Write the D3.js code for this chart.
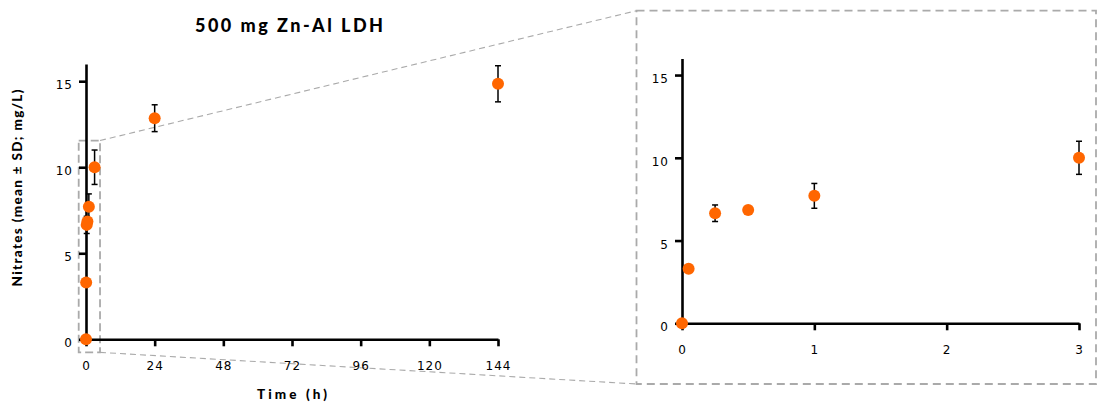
<!DOCTYPE html>
<html>
<head>
<meta charset="utf-8">
<script src="https://cdn.jsdelivr.net/npm/d3@7/dist/d3.min.js"></script>
<style>
  html, body { margin: 0; padding: 0; background: #fff; }
  svg { display: block; }
</style>
</head>
<body>
<svg id="chart" width="1097" height="403"></svg>
<script>
// ---- data ----
const timeHours = [0, 0.05, 0.25, 0.5, 1, 3, 24, 144];
const nitrateMean = [0, 3.3, 6.65, 6.85, 7.7, 10.0, 12.85, 14.85];
const nitrateSD = [0, 0, 0.5, 0, 0.75, 1.0, 0.78, 1.05];
const leftXTicks = [0, 24, 48, 72, 96, 120, 144];
const rightXTicks = [0, 1, 2, 3];
const yTicks = [0, 5, 10, 15];
const chartTitle = "500 mg Zn-Al LDH";
const xTitle = "Time (h)";
const yTitle = "Nitrates (mean ± SD; mg/L)";

const points = timeHours.map((t, i) => ({ t, v: nitrateMean[i], sd: nitrateSD[i] }));

const svg = d3.select("#chart");
const orange = "#ff6600";
const grey = "#aaaaaa";

// ---- scales ----
const xL = d3.scaleLinear().domain([0, 144]).range([86, 498]);
const yL = d3.scaleLinear().domain([0, 16]).range([339.3, 64]);
const xR = d3.scaleLinear().domain([0, 3]).range([682, 1079]);
const yR = d3.scaleLinear().domain([0, 16]).range([323.3, 58.5]);

// ---- zoom indicator (dashed) ----
const boxL = { x0: xL(-2.55), x1: xL(4.9), y0: yL(11.55), y1: yL(-0.76) };
const boxR = { x0: 636.5, x1: 1096, y0: 10.7, y1: 384 };

const g0 = svg.append("g");
g0.append("rect")
  .attr("x", boxL.x0).attr("y", boxL.y0)
  .attr("width", boxL.x1 - boxL.x0).attr("height", boxL.y1 - boxL.y0)
  .attr("fill", "none").attr("stroke", grey).attr("stroke-width", 1.8)
  .attr("stroke-dasharray", "8,4");
g0.append("rect")
  .attr("x", boxR.x0).attr("y", boxR.y0)
  .attr("width", boxR.x1 - boxR.x0).attr("height", boxR.y1 - boxR.y0)
  .attr("fill", "none").attr("stroke", grey).attr("stroke-width", 1.8)
  .attr("stroke-dasharray", "8,5");
g0.append("line")
  .attr("x1", boxL.x1).attr("y1", boxL.y0).attr("x2", boxR.x0).attr("y2", boxR.y0)
  .attr("stroke", grey).attr("stroke-width", 1.1).attr("stroke-dasharray", "6,4");
g0.append("line")
  .attr("x1", boxL.x1).attr("y1", boxL.y1).attr("x2", boxR.x0).attr("y2", boxR.y1)
  .attr("stroke", grey).attr("stroke-width", 1.1).attr("stroke-dasharray", "6,4");

// ---- axes helper ----
function styleAxis(g) {
  g.selectAll("path.domain").attr("stroke", "#000").attr("stroke-width", 2.6);
  g.selectAll(".tick line").attr("stroke", "#000").attr("stroke-width", 2.6);
  g.selectAll(".tick text")
    .attr("fill", "#000")
    .style("font-family", "'DejaVu Sans', Verdana, sans-serif")
    .style("font-size", "12px")
    .style("letter-spacing", "1px");
}

function drawPanel(x, y, xTicks, data) {
  const g = svg.append("g");
  const ax = g.append("g").attr("transform", `translate(0,${y(0)})`)
    .call(d3.axisBottom(x).tickValues(xTicks).tickFormat(d3.format("d"))
      .tickSize(7).tickSizeOuter(0).tickPadding(15));
  styleAxis(ax);
  const ay = g.append("g").attr("transform", `translate(${x(0)},0)`)
    .call(d3.axisLeft(y).tickValues(yTicks).tickFormat(d3.format("d"))
      .tickSize(7).tickSizeOuter(0).tickPadding(6));
  styleAxis(ay);
  ay.selectAll(".tick text").attr("dy", "0.62em");

  const pts = g.append("g");
  const withErr = data.filter(d => d.sd > 0);
  pts.selectAll("line.err").data(withErr).join("line")
    .attr("x1", d => x(d.t)).attr("x2", d => x(d.t))
    .attr("y1", d => y(d.v + d.sd)).attr("y2", d => y(d.v - d.sd))
    .attr("stroke", "#000").attr("stroke-width", 1.5);
  pts.selectAll("line.capT").data(withErr).join("line")
    .attr("x1", d => x(d.t) - 3).attr("x2", d => x(d.t) + 3)
    .attr("y1", d => y(d.v + d.sd)).attr("y2", d => y(d.v + d.sd))
    .attr("stroke", "#000").attr("stroke-width", 1.5);
  pts.selectAll("line.capB").data(withErr).join("line")
    .attr("x1", d => x(d.t) - 3).attr("x2", d => x(d.t) + 3)
    .attr("y1", d => y(d.v - d.sd)).attr("y2", d => y(d.v - d.sd))
    .attr("stroke", "#000").attr("stroke-width", 1.5);
  pts.selectAll("circle").data(data).join("circle")
    .attr("cx", d => x(d.t)).attr("cy", d => y(d.v)).attr("r", 6)
    .attr("fill", orange);
}

drawPanel(xL, yL, leftXTicks, points);
drawPanel(xR, yR, rightXTicks, points.filter(d => d.t <= 3));

// ---- titles ----
const boldFont = "Lato, 'Open Sans', sans-serif";
svg.append("text")
  .attr("x", 195).attr("y", 31.5)
  .attr("textLength", 188).attr("lengthAdjust", "spacing")
  .style("font-family", boldFont).style("font-weight", "900").style("font-size", "18px")
  .attr("fill", "#000")
  .text(chartTitle);

svg.append("text")
  .attr("x", 257).attr("y", 399)
  .attr("textLength", 70).attr("lengthAdjust", "spacing")
  .style("font-family", boldFont).style("font-weight", "900").style("font-size", "13.5px")
  .attr("fill", "#000")
  .text(xTitle);

svg.append("text")
  .attr("transform", "translate(21.7,286.5) rotate(-90)")
  .attr("x", 0).attr("y", 0)
  .attr("textLength", 197).attr("lengthAdjust", "spacing")
  .style("font-family", boldFont).style("font-weight", "900").style("font-size", "13.5px")
  .attr("fill", "#000")
  .text(yTitle);
</script>
</body>
</html>
